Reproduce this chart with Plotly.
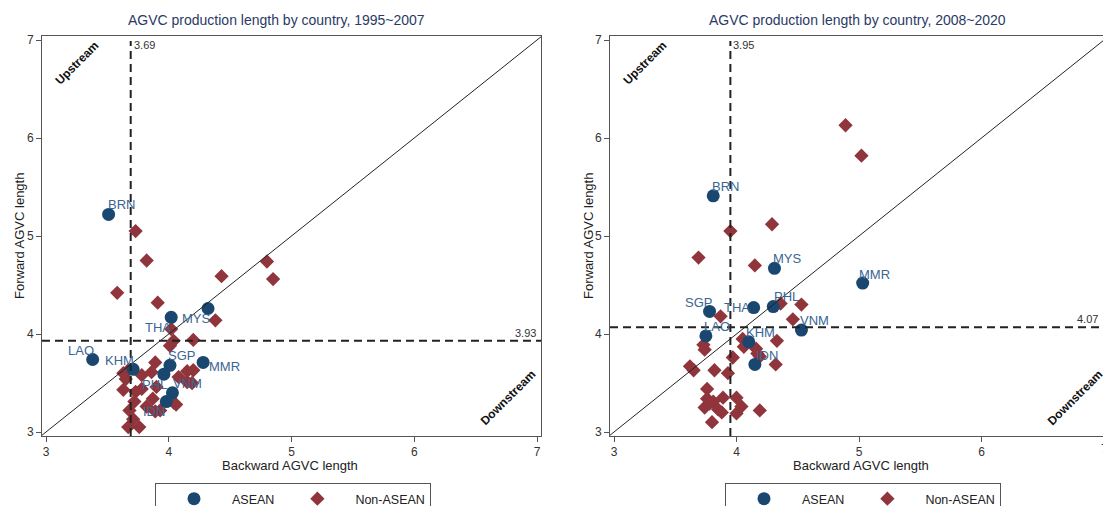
import plotly.graph_objects as go

W, H = 1103, 506

# ---------------- data ----------------
periods = ["1995~2007", "2008~2020"]

# Panel A (1995~2007) ASEAN
asean_a_code = ["BRN", "MYS", "THA", "LAO", "KHM", "SGP", "MMR", "PHL", "VNM", "IDN"]
asean_a_back = [3.51, 4.32, 4.02, 3.38, 3.71, 4.01, 4.28, 3.96, 4.03, 3.98]
asean_a_fwd = [5.22, 4.26, 4.17, 3.74, 3.64, 3.68, 3.71, 3.59, 3.40, 3.31]

nonasean_a_back = [3.73, 3.82, 3.58, 3.91, 4.43, 4.80, 4.85, 4.38, 4.02, 4.04, 4.01, 4.20,
                   3.89, 3.67, 3.78, 3.86, 3.65, 4.15, 4.20, 4.08, 4.15, 3.63, 3.73, 3.78,
                   3.90, 4.19, 3.87, 3.72, 3.68, 3.82, 4.04, 3.89, 3.71, 3.67, 3.76, 3.93,
                   4.06, 3.63]
nonasean_a_fwd = [5.05, 4.75, 4.42, 4.32, 4.59, 4.74, 4.56, 4.14, 4.05, 3.93, 3.88, 3.94,
                  3.71, 3.63, 3.58, 3.61, 3.54, 3.62, 3.63, 3.56, 3.51, 3.43, 3.41, 3.44,
                  3.46, 3.50, 3.34, 3.31, 3.22, 3.26, 3.30, 3.21, 3.13, 3.05, 3.05, 3.22,
                  3.28, 3.60]

# Panel B (2008~2020) ASEAN
asean_b_code = ["BRN", "MYS", "MMR", "SGP", "THA", "PHL", "LAO", "VNM", "KHM", "IDN"]
asean_b_back = [3.81, 4.31, 5.03, 3.78, 4.14, 4.30, 3.75, 4.53, 4.10, 4.15]
asean_b_fwd = [5.41, 4.67, 4.52, 4.23, 4.27, 4.28, 3.98, 4.04, 3.92, 3.69]

nonasean_b_back = [4.89, 5.02, 4.29, 3.95, 3.69, 4.15, 4.36, 4.53, 3.87, 4.46, 4.33, 3.73,
                   3.74, 4.05, 4.06, 4.16, 4.17, 4.32, 3.97, 3.62, 3.65, 3.82, 3.93, 3.76,
                   3.76, 3.81, 3.89, 3.74, 3.85, 4.00, 4.04, 4.00, 4.19, 3.80, 3.88, 3.78,
                   4.19]
nonasean_b_fwd = [6.13, 5.82, 5.12, 5.05, 4.78, 4.70, 4.31, 4.30, 4.18, 4.15, 3.93, 3.89,
                  3.84, 3.95, 3.87, 3.85, 3.80, 3.69, 3.76, 3.67, 3.63, 3.63, 3.60, 3.44,
                  3.34, 3.31, 3.35, 3.25, 3.23, 3.35, 3.26, 3.19, 3.22, 3.10, 3.20, 3.29,
                  3.77]

# reference (mean) lines: backward, forward
mean_a = (3.69, 3.93)
mean_b = (3.95, 4.07)

tick_vals = [3, 4, 5, 6, 7]
tick_text = ["3", "4", "5", "6", "7"]

# ---------------- style ----------------
NAVY = "#1a476f"
MAROON = "#90353b"
LABEL = "#3a6593"
TITLE = "#2a3a66"
FRAME = "#555555"
FONT = "Liberation Sans, Arial, sans-serif"

# label offsets (pixels, dx right / dy down) from the marker centre
lab_a = {"BRN": (13, -10), "MYS": (-12, 10), "THA": (-13, 10), "LAO": (-12, -9),
         "KHM": (-14, -9), "SGP": (12, -10), "MMR": (21, 4), "PHL": (-9, 10),
         "VNM": (15, -9), "IDN": (-12, 10)}
lab_b = {"BRN": (12, -9), "MYS": (13, -10), "MMR": (12, -9), "SGP": (-11, -9),
         "THA": (-17, 0), "PHL": (13, -10), "LAO": (11, -9), "VNM": (13, -10),
         "KHM": (12, -9), "IDN": (12, -9)}


def px(x):
    return x / W


def py(y):
    return 1 - y / H


# layout geometry (pixels)
L_left, L_right = 42, 541
R_left = 610
top, bottom = 36, 436
xr_a = [3 - 4 / 122.75, 3 + (L_right - 46) / 122.75]
xr_b = [3 - 4 / 122.5, 3 + (W - 614) / 122.5]
yr = [3 - 4 / 98, 7 + 4 / 98]

fig = go.Figure()
annotations = []

panels = [
    ("x", "y", "legend", asean_a_code, asean_a_back, asean_a_fwd, nonasean_a_back, nonasean_a_fwd, lab_a),
    ("x2", "y2", "legend2", asean_b_code, asean_b_back, asean_b_fwd, nonasean_b_back, nonasean_b_fwd, lab_b),
]
for xa, ya, lg, codes, bk, fw, nbk, nfw, lab in panels:
    fig.add_trace(go.Scatter(
        x=nbk, y=nfw, mode="markers", name="Non-ASEAN", xaxis=xa, yaxis=ya, legend=lg,
        marker=dict(symbol="diamond", size=11, color=MAROON, line=dict(width=0)),
        cliponaxis=False, legendrank=2))
    fig.add_trace(go.Scatter(
        x=bk, y=fw, mode="markers", name="ASEAN", xaxis=xa, yaxis=ya, legend=lg,
        marker=dict(symbol="circle", size=13, color=NAVY, line=dict(width=0)),
        cliponaxis=False, legendrank=1))
    for c, xv, yv in zip(codes, bk, fw):
        dx, dy = lab[c]
        annotations.append(dict(xref=xa, yref=ya, x=xv, y=yv, text=c, showarrow=False,
                                xanchor="center", yanchor="middle", xshift=dx, yshift=-dy,
                                font=dict(size=13, color=LABEL, family=FONT)))

axis_common = dict(
    showgrid=False, zeroline=False, showline=True, linecolor=FRAME, linewidth=1,
    ticks="outside", ticklen=5, tickcolor=FRAME,
    tickvals=tick_vals, ticktext=tick_text,
    tickfont=dict(size=12, color="#333", family=FONT),
)

legend_common = dict(orientation="h", y=py(483), xanchor="left", yanchor="top",
                     bordercolor=FRAME, borderwidth=1, bgcolor="white",
                     font=dict(size=12.5, color="#222", family=FONT),
                     itemwidth=66, traceorder="normal")

fig.update_layout(
    width=W, height=H, margin=dict(l=0, r=0, t=0, b=0, autoexpand=False),
    paper_bgcolor="white", plot_bgcolor="white",
    font=dict(family=FONT),
    xaxis=dict(domain=[px(L_left), px(L_right)], range=xr_a, anchor="y", mirror=True, **axis_common),
    yaxis=dict(domain=[py(bottom), py(top)], range=yr, anchor="x", mirror=True, **axis_common),
    xaxis2=dict(domain=[px(R_left), 1.0], range=xr_b, anchor="y2", mirror=True, **axis_common),
    yaxis2=dict(domain=[py(bottom), py(top)], range=yr, anchor="x2", mirror=False, **axis_common),
    legend=dict(x=px(155), **legend_common),
    legend2=dict(x=px(725), **legend_common),
    showlegend=True,
)

shapes = []
for xa, ya, (mb, mf), xr, title, xc, xt in [
    ("x", "y", mean_a, xr_a, periods[0], 276, 290),
    ("x2", "y2", mean_b, xr_b, periods[1], 857, 861),
]:
    dash = dict(color="#222", width=2, dash="8px,5px")
    # vertical mean line
    shapes.append(dict(type="line", xref=xa, yref=ya, x0=mb, x1=mb, y0=yr[0], y1=yr[1] - 0.05, line=dash))
    # horizontal mean line
    shapes.append(dict(type="line", xref=xa, yref=ya, x0=xr[0], x1=xr[1], y0=mf, y1=mf, line=dash))
    # 45-degree line
    lo, hi = xr[0], min(xr[1], yr[1])
    shapes.append(dict(type="line", xref=xa, yref=ya, x0=lo, x1=hi, y0=lo, y1=hi,
                       line=dict(color="#222", width=1)))
    annotations.append(dict(xref=xa, yref=ya, x=mb, y=yr[1], text=f"{mb:.2f}", showarrow=False,
                            xanchor="left", yanchor="top", xshift=1, yshift=-1,
                            font=dict(size=11, color="#333")))
    annotations.append(dict(xref=xa, yref=ya, x=xr[1], y=mf, text=f"{mf:.2f}", showarrow=False,
                            xanchor="right", yanchor="bottom", xshift=-3, yshift=0,
                            font=dict(size=11, color="#333")))
    annotations.append(dict(xref=xa, yref=ya, x=3.25, y=6.77, text="<b>Upstream</b>", showarrow=False,
                            textangle=-45, font=dict(size=12, color="#111")))
    annotations.append(dict(xref=xa, yref=ya, x=6.76, y=3.35, text="<b>Downstream</b>", showarrow=False,
                            textangle=-45, font=dict(size=12, color="#111")))
    annotations.append(dict(xref="paper", yref="paper", x=px(xc), y=py(20),
                            text=f"AGVC production length by country, {title}", showarrow=False,
                            xanchor="center", yanchor="middle", font=dict(size=14, color=TITLE)))
    annotations.append(dict(xref="paper", yref="paper", x=px(xt), y=py(465),
                            text="Backward AGVC length", showarrow=False,
                            xanchor="center", yanchor="middle", font=dict(size=13, color="#222")))

for xpix in (19, 588):
    annotations.append(dict(xref="paper", yref="paper", x=px(xpix), y=py(236), text="Forward AGVC length",
                            showarrow=False, textangle=-90, xanchor="center", yanchor="middle",
                            font=dict(size=13, color="#222")))
# partially visible last tick label of the cut-off right panel
x7_pix = 614 + (7 - 3) * 122.5
annotations.append(dict(xref="paper", yref="paper", x=px(x7_pix), y=py(449), text="7", showarrow=False,
                        xanchor="center", yanchor="middle", font=dict(size=12, color="#333")))

fig.update_layout(shapes=shapes, annotations=annotations)
fig.write_html("out.html")
